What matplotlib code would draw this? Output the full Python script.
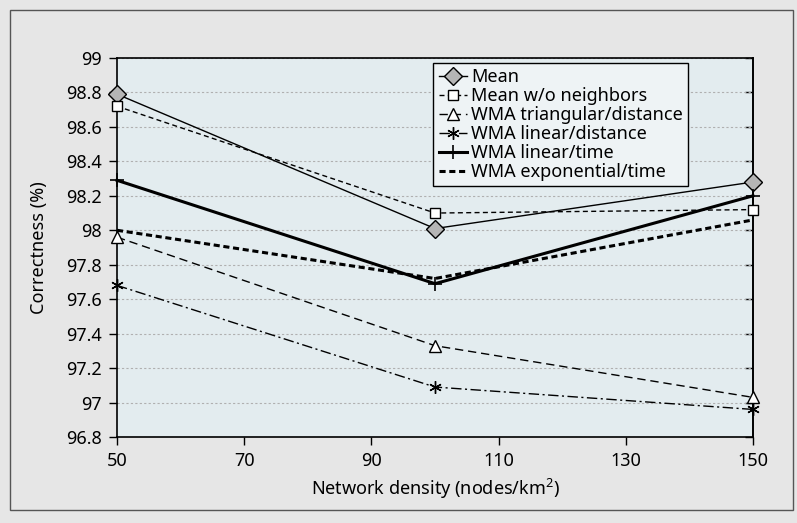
import matplotlib
matplotlib.use('Agg')
import matplotlib.pyplot as plt
from matplotlib.patches import Rectangle

plt.rcParams['font.family'] = ['Noto Sans', 'DejaVu Sans']
plt.rcParams['mathtext.fontset'] = 'custom'
plt.rcParams['mathtext.rm'] = 'Noto Sans'

# data
density = [50, 100, 150]
mean = [98.79, 98.01, 98.28]
mean_wo = [98.72, 98.10, 98.12]
wma_tri_dist = [97.96, 97.33, 97.03]
wma_lin_dist = [97.68, 97.09, 96.96]
wma_lin_time = [98.29, 97.69, 98.20]
wma_exp_time = [98.00, 97.72, 98.06]
xticks = [50, 70, 90, 110, 130, 150]
yticks = [96.8, 97, 97.2, 97.4, 97.6, 97.8, 98, 98.2, 98.4, 98.6, 98.8, 99]

fig = plt.figure(figsize=(7.97, 5.23), dpi=100, facecolor='#e6e6e6')
# outer frame
fig.patches.append(Rectangle((10 / 797, 1 - 510 / 523), 783 / 797, 500 / 523,
                             transform=fig.transFigure, fill=False,
                             edgecolor='#555555', lw=1.0))
ax = fig.add_axes([117 / 797, 1 - 437 / 523, 636 / 797, 379 / 523])
ax.set_facecolor('#e3ecef')

ax.plot(density, mean, color='black', lw=1.0, marker='D', ms=9.5,
        mfc='#b5b5b5', mec='black', mew=1.0, label='Mean', zorder=3, clip_on=False)
ax.plot(density, mean_wo, color='black', lw=1.0, ls=(0, (3.6, 2.4)), marker='s', ms=7.5,
        mfc='white', mec='black', mew=1.0, label='Mean w/o neighbors', zorder=3,
        clip_on=False)
ax.plot(density, wma_tri_dist, color='black', lw=1.0, ls=(0, (6, 3.5)), marker='^', ms=9,
        mfc='white', mec='black', mew=1.0, label='WMA triangular/distance', zorder=3,
        clip_on=False)
ax.plot(density, wma_lin_dist, color='black', lw=1.0, ls=(0, (7.5, 2.5, 1.5, 2.5)),
        marker=(6, 2, 0), ms=9, mec='black', mew=1.0,
        label='WMA linear/distance', zorder=3, clip_on=False)
ax.plot(density, wma_lin_time, color='black', lw=2.2, marker='+', ms=10, mew=1.2,
        label='WMA linear/time', zorder=3, clip_on=False)
ax.plot(density, wma_exp_time, color='black', lw=2.2, ls=(0, (2, 1.2)),
        label='WMA exponential/time', zorder=3)

ax.set_xlim(50, 150)
ax.set_ylim(96.8, 99)
ax.set_xticks(xticks)
ax.set_yticks(yticks)
ax.set_yticklabels([('%g' % v) for v in yticks])
ax.grid(axis='y', color='#b0b0b0', ls=(0, (2, 2)), lw=0.8)
ax.tick_params(axis='both', labelsize=13, colors='black', length=6, width=1,
               direction='out', pad=5)
ax.set_axisbelow(True)

# right-hand ticks point inward
sec = ax.secondary_yaxis('right')
sec.set_yticks(yticks)
sec.tick_params(direction='in', length=6, width=1, labelright=False)
sec.spines['right'].set_linewidth(1.2)

for s in ax.spines.values():
    s.set_color('black')
    s.set_linewidth(1.2)

ax.set_xlabel('Network density (nodes/km$^{2}$)', fontsize=13)
ax.set_ylabel('Correctness (%)', fontsize=13)
ax.xaxis.set_label_coords(0.5, -0.105)
ax.yaxis.set_label_coords(-0.108, 0.5)

leg = ax.legend(loc='upper left', bbox_to_anchor=(0.497, 0.987), fontsize=13,
                frameon=True, fancybox=False, edgecolor='black',
                facecolor='#eef3f5', framealpha=1, handlelength=1.6,
                handletextpad=0.2, borderpad=0.3, labelspacing=0.05,
                borderaxespad=0)
leg.get_frame().set_linewidth(1.0)

fig.savefig('out.png', dpi=100, facecolor=fig.get_facecolor())
